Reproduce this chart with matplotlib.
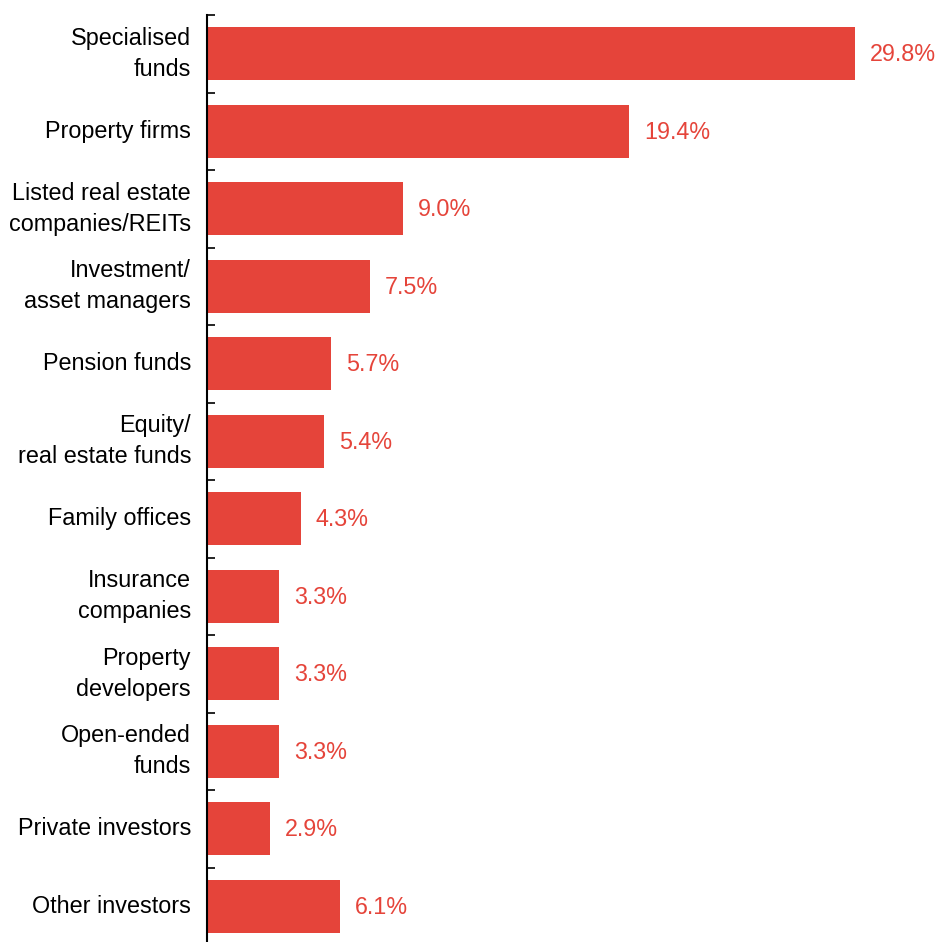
import matplotlib
matplotlib.use("Agg")
import matplotlib.pyplot as plt
from matplotlib.ticker import FixedLocator

categories = ["Specialised\nfunds", "Property firms", "Listed real estate\ncompanies/REITs",
              "Investment/\nasset managers", "Pension funds", "Equity/\nreal estate funds",
              "Family offices", "Insurance\ncompanies", "Property\ndevelopers",
              "Open-ended\nfunds", "Private investors", "Other investors"]
values = [29.8, 19.4, 9.0, 7.5, 5.7, 5.4, 4.3, 3.3, 3.3, 3.3, 2.9, 6.1]
value_labels = ["29.8%", "19.4%", "9.0%", "7.5%", "5.7%", "5.4%", "4.3%", "3.3%", "3.3%", "3.3%", "2.9%", "6.1%"]

plt.rcParams['font.family'] = ['Liberation Sans', 'DejaVu Sans']
red = "#E5443A"

W, H = 937, 942
fig = plt.figure(figsize=(W/100, H/100), dpi=100)
ax_left = 207 / W
ax_top = 1 - 15 / H
ax_bottom = 1 - 945 / H
ax = fig.add_axes([ax_left, ax_bottom, 1 - ax_left, ax_top - ax_bottom])

n = len(categories)
ypos = list(range(n))
ax.barh(ypos, values, height=0.68, color=red, zorder=2)
ax.set_ylim(n - 0.5, -0.5)
px_per_unit = (855 - 207) / 29.8
ax.set_xlim(0, (W - 207) / px_per_unit)

for y, v, lab in zip(ypos, values, value_labels):
    ax.annotate(lab, (v, y), xytext=(15, -1), textcoords="offset pixels",
                va="center", ha="left", color=red, fontsize=16.8)

ax.set_yticks(ypos)
ax.set_yticklabels(categories, fontsize=16.8, linespacing=1.45)
for t in ax.get_yticklabels():
    t.set_verticalalignment("center")
ax.tick_params(axis="y", which="major", length=0, pad=11.5)
ax.yaxis.set_minor_locator(FixedLocator([i - 0.5 for i in range(n + 1)]))
ax.tick_params(axis="y", which="minor", direction="in", length=6, width=1.2, color="black")
ax.set_xticks([])
for s in ["top", "right", "bottom"]:
    ax.spines[s].set_visible(False)
ax.spines["left"].set_linewidth(1.5)
ax.spines["left"].set_zorder(3)

fig.savefig("out.png", dpi=100)
